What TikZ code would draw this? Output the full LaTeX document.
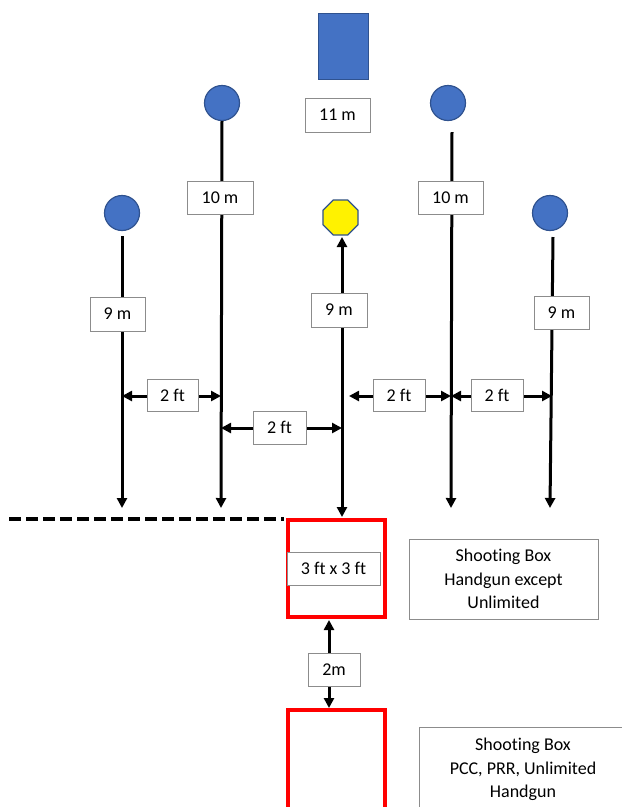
\documentclass[tikz,border=0pt]{standalone}
\usepackage{fontspec}
\setmainfont{Carlito}[Ligatures=NoCommon]
\usetikzlibrary{arrows.meta,shapes.geometric}
\definecolor{tblue}{HTML}{4472C4}
\definecolor{tedge}{HTML}{2F528F}
\definecolor{boxgray}{HTML}{8C8C8C}
\definecolor{boxred}{HTML}{FF0000}
\begin{document}
\begin{tikzpicture}[x=1pt,y=-1pt,
  font=\fontsize{18}{23.5}\selectfont,
  target/.style={circle,fill=tblue,draw=tedge,line width=1.2pt,minimum size=35pt,inner sep=0pt},
  lbl/.style={draw=boxgray,fill=white,line width=0.8pt,inner sep=0pt},
  rod/.style={line width=3pt},
  tipend/.style={-{Triangle[length=10pt,width=10pt]}},
  tipboth/.style={{Triangle[length=10pt,width=10pt]}-{Triangle[length=10pt,width=10pt]}},
  shootbox/.style={draw=boxred,line width=4pt}]
\useasboundingbox (0,0) rectangle (622,807);
\clip (0,0) rectangle (622,807);

% targets
\node[rectangle,fill=tblue,draw=tedge,line width=1.2pt,minimum width=50pt,minimum height=66pt,inner sep=0pt] (plate) at (343.5,46.5) {};
\node[target] (tA) at (122,213) {};
\node[target] (tB) at (222,103) {};
\node[target] (tD) at (448,103) {};
\node[target] (tE) at (550,213) {};
\node[regular polygon,regular polygon sides=8,fill=yellow,draw=tedge,line width=1.2pt,minimum size=38pt,inner sep=0pt] (oc) at (340.5,217.5) {};

% shooting boxes
\node[shootbox,minimum width=97pt,minimum height=97pt,inner sep=0pt] (box1) at (336.5,568.5) {};
\draw[shootbox] (288,710) rectangle (385,830);
\coordinate (box2top) at (329,708);

% rod ends
\coordinate (aTop) at (122,236);
\coordinate (aBot) at (122,508);
\coordinate (bBot) at (221,508);
\coordinate (cTop) at (342,237);
\coordinate (cBot) at (342,517);
\coordinate (dTop) at (452,132);
\coordinate (dBot) at (451,508);
\coordinate (eTop) at (553,237);
\coordinate (eBot) at (550,508);

% distance rods
\draw[rod,tipend] (aTop) -- (aBot);
\draw[rod,tipend] (tB.south) -- (bBot);
\draw[rod,tipboth] (cTop) -- (cBot);
\draw[rod,tipend] (dTop) -- (dBot);
\draw[rod,tipend] (eTop) -- (eBot);

% lateral spacing
\coordinate (s1a) at (122,396);
\coordinate (s1b) at (221,396);
\coordinate (s2a) at (221,428);
\coordinate (s2b) at (342,428);
\coordinate (s3a) at (349,396);
\coordinate (s3b) at (451,396);
\coordinate (s4a) at (451,396);
\coordinate (s4b) at (552,396);
\draw[rod,tipboth] (s1a) -- (s1b);
\draw[rod,tipboth] (s2a) -- (s2b);
\draw[rod,tipboth] (s3a) -- (s3b);
\draw[rod,tipboth] (s4a) -- (s4b);

% fault line
\coordinate (fl1) at (9,519);
\coordinate (fl2) at (284,519);
\draw[line width=3.5pt,dash pattern=on 12pt off 5pt] (fl1) -- (fl2);

% box spacing
\coordinate (box1bot) at (329,620);
\draw[rod,tipboth] (box1bot) -- (box2top);

% labels
\node[lbl,minimum width=65pt,minimum height=34pt] (l11) at (337.5,115) {11 m};
\node[lbl,minimum width=66pt,minimum height=33pt] (l10a) at (220,197.5) {10 m};
\node[lbl,minimum width=65pt,minimum height=33pt] (l10b) at (450.5,197.5) {10 m};
\node[lbl,minimum width=55pt,minimum height=34pt] (l9a) at (117.5,314) {9 m};
\node[lbl,minimum width=56pt,minimum height=34pt] (l9b) at (339,310) {9 m};
\node[lbl,minimum width=55pt,minimum height=33pt] (l9c) at (561.5,312.5) {9 m};
\node[lbl,minimum width=51pt,minimum height=32pt] (f1) at (172.5,395) {2 ft};
\node[lbl,minimum width=53pt,minimum height=33pt] (f2) at (279.5,427.5) {2 ft};
\node[lbl,minimum width=52pt,minimum height=32pt] (f3) at (399,395) {2 ft};
\node[lbl,minimum width=52pt,minimum height=32pt] (f4) at (497,395) {2 ft};
\node[lbl,minimum width=93pt,minimum height=33pt] (l3ft) at (333.5,568.5) {3 ft x 3 ft};
\node[lbl,minimum width=52pt,minimum height=33pt] (l2m) at (334,669.5) {2m};

% legends
\node[lbl,minimum width=189pt,minimum height=80pt,align=center] (leg1) at (503.5,579) {Shooting Box\\Handgun except\\Unlimited};
\draw[boxgray,line width=0.8pt,fill=white] (419,727) rectangle (627,830);
\node[align=center,anchor=north,inner sep=0pt] (leg2) at (523,738) {Shooting Box\\PCC, PRR, Unlimited\\Handgun};
\end{tikzpicture}
\end{document}
